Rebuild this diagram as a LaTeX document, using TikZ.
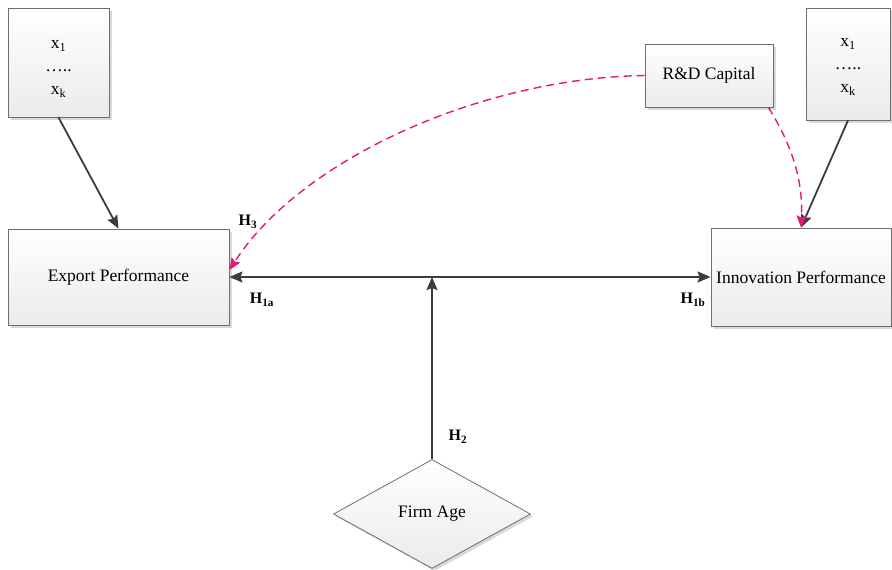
\documentclass[tikz,border=0pt]{standalone}
\usepackage{fontspec}
\setmainfont{Liberation Serif}
\usetikzlibrary{shapes.geometric,arrows.meta,shadows,calc}
\definecolor{pinkd}{RGB}{232,24,120}
\definecolor{edgec}{RGB}{110,110,110}
\definecolor{arrc}{RGB}{60,60,60}
\begin{document}
\begin{tikzpicture}[x=1pt,y=-1pt,
 box/.style={draw=edgec, line width=0.8pt, top color=white, bottom color=gray!16,
   drop shadow={shadow xshift=2.5pt, shadow yshift=-2.5pt, fill=gray!50, opacity=0.6},
   inner sep=0pt, font=\fontsize{17.5}{21}\selectfont, align=center},
 txt/.style={inner sep=0pt, font=\fontsize{17.5}{23}\selectfont, align=center},
 arr/.style={draw=arrc, line width=1.8pt, -{Stealth[length=13pt,width=11pt,inset=2pt]}},
 pdash/.style={draw=pinkd, line width=1.4pt, dash pattern=on 8pt off 5pt, -{Stealth[length=12pt,width=10pt,inset=2pt]}},
 hyp/.style={font=\fontsize{16}{18}\selectfont\bfseries, inner sep=0pt}
]
\useasboundingbox (0,0) rectangle (892,570);
\node[box, minimum width=101pt, minimum height=109pt] (tl) at (58.5,62.5) {};
\node[txt] (tltext) at (58.5,69) {x\textsubscript{1}\\…..\\x\textsubscript{k}};
\node[box, minimum width=84pt, minimum height=112pt] (tr) at (848,64) {};
\node[txt] (trtext) at (848,67) {x\textsubscript{1}\\…..\\x\textsubscript{k}};
\node[box, minimum width=128pt, minimum height=63pt] (rd) at (709,75.5) {R\&D Capital};
\node[box, minimum width=221pt, minimum height=96pt] (ep) at (118.5,277) {Export Performance};
\node[box, minimum width=180pt, minimum height=98pt] (ip) at (801,277) {Innovation Performance};
\node[box, diamond, aspect=1.8, minimum width=197pt, minimum height=109pt] (fa) at (432,514) {Firm Age};

\draw[arr] (tl.south) -- (ep.north);
\draw[arr] (tr.south) -- (ip.north);
\draw[arr, {Stealth[length=13pt,width=11pt,inset=2pt]}-{Stealth[length=13pt,width=11pt,inset=2pt]}] (ep.east) -- (ip.west);
\coordinate (jn) at (fa.north |- ep.east);
\draw[arr] (fa.north) -- (jn);

\draw[pdash] (rd.west) .. controls (480,78) and (300,160) .. ($(ep.east)+(0,-7)$);
\draw[pdash] ($(rd.south east)+(-5,0)$) .. controls (795,150) and (803,185) .. (ip.north);

\node[hyp] (h3) at (248,222) {H\textsubscript{3}};
\node[hyp] (h1a) at (262,300) {H\textsubscript{1a}};
\node[hyp] (h1b) at (693,300) {H\textsubscript{1b}};
\node[hyp] (h2) at (458,437) {H\textsubscript{2}};
\end{tikzpicture}
\end{document}
